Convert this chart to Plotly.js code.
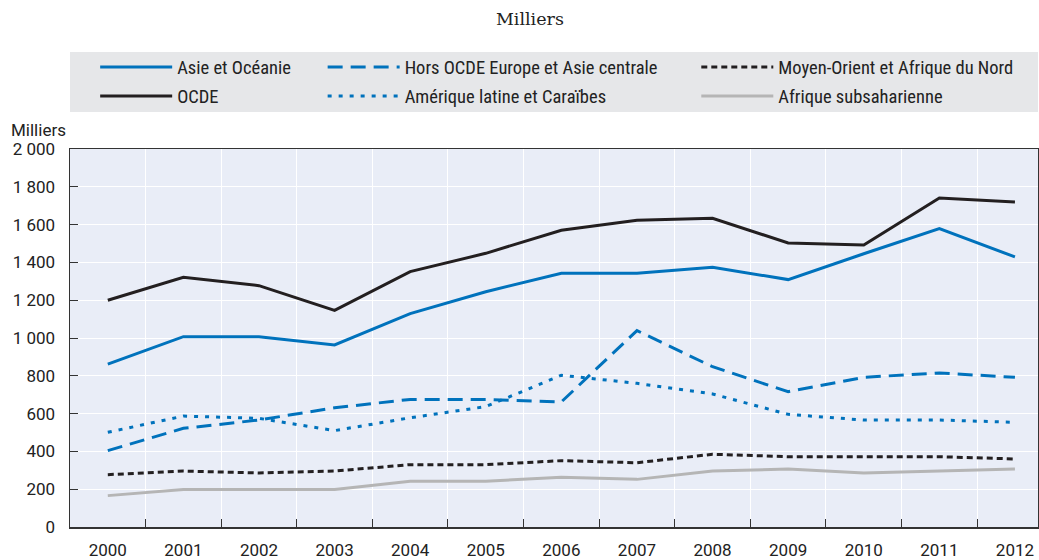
<!DOCTYPE html>
<html>
<head>
<meta charset="utf-8">
<script src="https://cdn.plot.ly/plotly-3.0.1.min.js"></script>
<style>html,body{margin:0;padding:0;background:#fff;}#chart{width:1039px;height:560px;}</style>
</head>
<body>
<div id="chart"></div>
<script>
const years = ["2000","2001","2002","2003","2004","2005","2006","2007","2008","2009","2010","2011","2012"];
const asieOceanie = [862,1007,1007,963,1129,1245,1342,1342,1374,1309,1446,1579,1429];
const horsOcdeEurope = [404,522,566,631,675,675,662,1039,848,716,792,815,792];
const moyenOrient = [277,296,286,296,330,330,351,340,385,372,372,372,360];
const ocde = [1200,1321,1277,1146,1351,1448,1570,1623,1633,1503,1492,1741,1720];
const ameriqueLatine = [501,587,575,510,578,637,803,760,704,596,566,566,554];
const afriqueSub = [166,199,199,199,242,242,263,252,296,307,286,296,307];
const yTicks = [0,200,400,600,800,1000,1200,1400,1600,1800,2000];

const xIdx = years.map((_, i) => i);
const blue = '#0072bc', black = '#231f20', gray = '#b5b5b5';

function tr(name, y, color, dash, legend, group) {
  return {x: xIdx, y: y, name: name, type: 'scatter', mode: 'lines',
    line: {color: color, width: 3, dash: dash}, legend: legend, legendgroup: group,
    hoverinfo: 'skip'};
}
const data = [
  tr('Asie et Océanie', asieOceanie, blue, 'solid', 'legend', 'a'),
  tr('OCDE', ocde, black, 'solid', 'legend', 'b'),
  tr('Hors OCDE Europe et Asie centrale', horsOcdeEurope, blue, '15px,8px', 'legend2', 'c'),
  tr('Amérique latine et Caraïbes', ameriqueLatine, blue, '4px,7px', 'legend2', 'd'),
  tr('Moyen-Orient et Afrique du Nord', moyenOrient, black, '6px,4px', 'legend3', 'e'),
  tr('Afrique subsaharienne', afriqueSub, gray, 'solid', 'legend3', 'f')
];

const sans = 'Roboto, "Liberation Sans", sans-serif';
const narrow = '"Liberation Sans Narrow", "Roboto Condensed", Roboto, sans-serif';
const font = {family: sans, size: 17, color: '#222'};
const legBase = {orientation: 'v', bgcolor: 'rgba(0,0,0,0)', yanchor: 'top', y: 1.266,
  xanchor: 'left', itemwidth: 72, tracegroupgap: 2, font: {family: narrow, size: 18.5, color: '#222'},
  itemclick: false, itemdoubleclick: false};

const layout = {
  width: 1039, height: 560,
  margin: {l: 70, r: 1, t: 149, b: 33},
  paper_bgcolor: '#ffffff', plot_bgcolor: '#e9edf7',
  font: font,
  showlegend: true,
  title: {text: 'Milliers', x: 0.51, xref: 'container', xanchor: 'center', y: 0.966, yanchor: 'middle',
    font: {family: '"DejaVu Serif", "Noto Serif", serif', size: 17.5, color: '#222'}},
  legend: Object.assign({}, legBase, {x: 0.026}),
  legend2: Object.assign({}, legBase, {x: 0.261}),
  legend3: Object.assign({}, legBase, {x: 0.647}),
  xaxis: {range: [-0.5, 12.305], tickmode: 'array', tickvals: xIdx, ticktext: years,
    showgrid: false, ticks: '', zeroline: false, showline: true, linecolor: '#333', linewidth: 1.5,
    mirror: true, ticklabelstandoff: 7, tickfont: {size: 17},
    minor: {tickmode: 'array', tickvals: xIdx.slice(0, -1).map(v => v + 0.5), showgrid: true,
      gridcolor: '#ffffff', gridwidth: 1, ticks: 'inside', ticklen: 8, tickcolor: '#333', tickwidth: 1}},
  yaxis: {range: [0, 2000], tickmode: 'array', tickvals: yTicks, separatethousands: true,
    showgrid: true, gridcolor: '#ffffff', gridwidth: 1, zeroline: false, showline: true,
    linecolor: '#333', linewidth: 1.5, mirror: true, ticks: 'inside', ticklen: 8, tickcolor: '#333',
    ticklabelstandoff: 10, tickfont: {size: 17}},
  separators: ', ',
  shapes: [{type: 'rect', xref: 'paper', yref: 'paper', x0: 0, x1: 1, y0: 1.0979, y1: 1.2566,
    fillcolor: '#e6e7e9', line: {width: 0}, layer: 'below'}],
  annotations: [{text: 'Milliers', xref: 'paper', yref: 'paper', x: -0.063, y: 1.05,
    xanchor: 'left', yanchor: 'middle', showarrow: false, font: {family: sans, size: 17, color: '#222'}}]
};

Plotly.newPlot('chart', data, layout, {staticPlot: true, displayModeBar: false});
</script>
</body>
</html>
